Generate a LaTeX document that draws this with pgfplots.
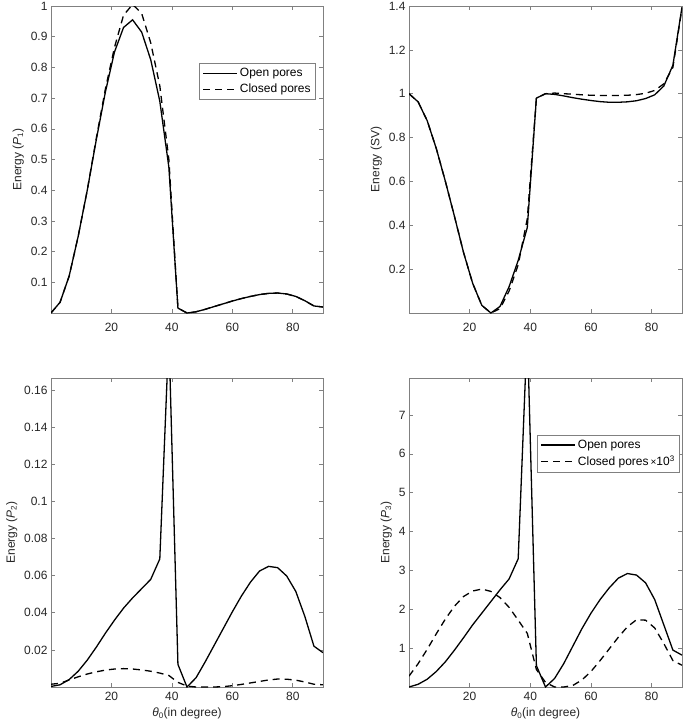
\documentclass[border=0pt]{standalone}
\usepackage{fontspec}
\setmainfont{Liberation Sans}
\usepackage{pgfplots}
\usepackage{pgfplotstable}
\pgfplotsset{compat=1.18}

\pgfplotstableread{
x  p1o   p1c   svo   svc
0  0.0   0.0   1.0   1.0
3  0.035 0.035 0.963 0.963
6  0.12  0.12  0.877 0.877
9  0.25  0.25  0.75  0.75
12 0.40  0.40  0.60  0.60
15 0.565 0.57  0.44  0.44
18 0.72  0.73  0.275 0.275
21 0.85  0.865 0.135 0.135
24 0.93  0.97  0.035 0.035
27 0.955 1.005 0.0   0.0
30 0.915 0.976 0.03  0.02
33 0.825 0.88  0.12  0.10
36 0.69  0.74  0.24  0.22
39 0.475 0.50  0.39  0.43
42 0.016 0.016 0.98  0.98
45 0.0   0.0   1.0   1.0
48 0.004 0.004 0.997 1.003
51 0.012 0.012 0.99  1.0
54 0.021 0.021 0.982 0.998
57 0.03  0.03  0.975 0.995
60 0.039 0.039 0.969 0.993
63 0.047 0.047 0.964 0.992
66 0.054 0.054 0.961 0.992
69 0.06  0.06  0.961 0.992
72 0.064 0.064 0.963 0.993
75 0.065 0.065 0.968 0.996
78 0.062 0.062 0.978 1.002
81 0.054 0.054 0.995 1.015
84 0.04  0.04  1.035 1.045
87 0.023 0.023 1.13  1.12
90 0.0195 0.0195 1.395 1.39
}\topdata

\pgfplotstableread{
x  p2o    p2c    p3o   p3c
0  0.0003 0.0015 0.0   0.28
3  0.0012 0.002  0.07  0.6
6  0.004  0.0038 0.2   0.97
9  0.0085 0.0055 0.4   1.37
12 0.0145 0.007  0.65  1.75
15 0.0215 0.0082 0.95  2.08
18 0.029  0.0091 1.27  2.33
21 0.036  0.0097 1.6   2.47
24 0.0425 0.0099 1.9   2.52
27 0.048  0.0097 2.2   2.46
30 0.053  0.0092 2.5   2.3
33 0.058  0.0085 2.78  2.05
36 0.069  0.0075 3.3   1.72
39 0.19   0.0062 9.2   1.38
42 0.0122 0.0025 0.55  0.45
45 0.0    0.0005 0.0   0.12
48 0.005  0.0    0.22  0.0
51 0.0135 0.0    0.6   0.0
54 0.0225 0.0    1.05  0.04
57 0.0315 0.0002 1.5   0.18
60 0.0405 0.0007 1.9   0.4
63 0.049  0.0014 2.25  0.68
66 0.0565 0.0022 2.55  0.98
69 0.0625 0.003  2.8   1.28
72 0.065  0.0038 2.92  1.55
75 0.0643 0.0043 2.88  1.73
78 0.0598 0.0042 2.68  1.72
81 0.0515 0.0037 2.25  1.52
84 0.038  0.0027 1.6   1.12
87 0.022  0.0015 0.95  0.68
90 0.0185 0.0012 0.82  0.56
}\botdata

\pgfplotsset{
  mlab/.style={
    scale only axis, width=272pt,
    xmin=0, xmax=90, ymin=0,
    xtick={20,40,60,80},
    axis line style={black!50, line width=0.7pt},
    tick style={black!50, line width=0.6pt},
    tick align=inside, major tick length=4pt,
    ticklabel style={font=\fontsize{12}{14}\selectfont, text=black!85},
    label style={font=\fontsize{12}{14}\selectfont, text=black!85},
    /pgf/number format/assume math mode=true,
    scaled y ticks=false,
    yticklabel style={/pgf/number format/fixed, /pgf/number format/precision=2},
    legend style={font=\fontsize{12}{14}\selectfont, draw=black!50, line width=0.6pt, inner sep=3pt, row sep=2pt},
    legend cell align=left,
    legend image code/.code={\draw[##1] (0pt,0pt) -- (34pt,0pt);},
  },
  open/.style={black, line width=1.3pt},
  closed/.style={black, line width=1.3pt, dash pattern=on 7pt off 5pt},
}

\begin{document}
\begin{tikzpicture}
\path[use as bounding box] (0pt,0pt) rectangle (685pt,-724pt);

\begin{axis}[mlab, at={(51pt,-6pt)}, anchor=north west, height=307pt,
  ymax=1.0,
  xticklabel style={yshift=-7pt},
  ytick={0.1,0.2,0.3,0.4,0.5,0.6,0.7,0.8,0.9,1},
  yticklabel style={/pgf/number format/precision=1},
  ylabel={Energy (\textit{P}\textsubscript{1})},
  legend style={at={(0.974,0.814)}, anchor=north east}]
\addplot[open] table[x=x,y=p1o] {\topdata};
\addlegendentry{Open pores}
\addplot[closed] table[x=x,y=p1c] {\topdata};
\addlegendentry{Closed pores}
\end{axis}

\begin{axis}[mlab, at={(409pt,-6pt)}, anchor=north west, width=273pt, height=307pt,
  ymax=1.4,
  xticklabel style={yshift=-7pt},
  ytick={0.2,0.4,0.6,0.8,1,1.2,1.4},
  yticklabel style={/pgf/number format/precision=1},
  ylabel={Energy (SV)}]
\addplot[open] table[x=x,y=svo] {\topdata};
\addplot[closed] table[x=x,y=svc] {\topdata};
\end{axis}

\begin{axis}[mlab, at={(51pt,-378pt)}, anchor=north west, height=309pt,
  ymax=0.1665,
  xticklabel style={yshift=-2pt},
  ytick={0.02,0.04,0.06,0.08,0.1,0.12,0.14,0.16},
  ylabel={Energy (\textit{P}\textsubscript{2})},
  xlabel={\textit{θ}\textsubscript{0}(in degree)}]
\addplot[open] table[x=x,y=p2o] {\botdata};
\addplot[closed] table[x=x,y=p2c] {\botdata};
\end{axis}

\begin{axis}[mlab, at={(409pt,-378pt)}, anchor=north west, width=273pt, height=309pt,
  ymax=7.95,
  xticklabel style={yshift=-2pt},
  ytick={1,2,3,4,5,6,7},
  yticklabel style={/pgf/number format/precision=0},
  ylabel={Energy (\textit{P}\textsubscript{3})},
  xlabel={\textit{θ}\textsubscript{0}(in degree)},
  legend style={at={(0.993,0.816)}, anchor=north east}]
\addplot[open] table[x=x,y=p3o] {\botdata};
\addlegendentry{Open pores}
\addplot[closed] table[x=x,y=p3c] {\botdata};
\addlegendentry{Closed pores\,{\fontsize{10}{12}\selectfont ×}10\textsuperscript{3}}
\node[anchor=south west, inner sep=0pt, font=\fontsize{12}{14}\selectfont, text=black!85] at (rel axis cs:0,1) [yshift=3pt] {x 10\textsuperscript{−3}};
\end{axis}
\end{tikzpicture}
\end{document}
